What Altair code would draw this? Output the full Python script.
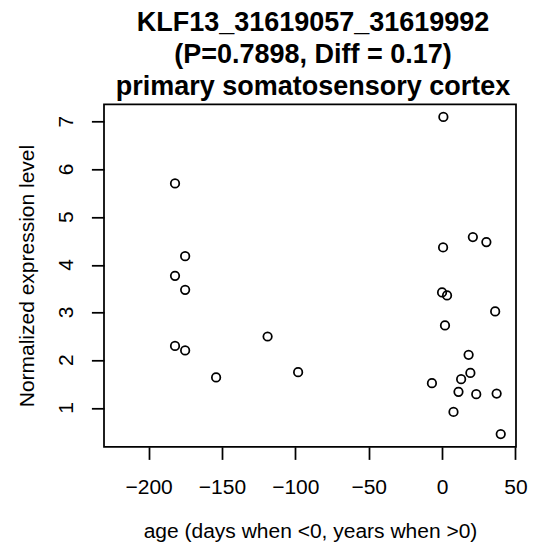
import altair as alt
import pandas as pd

# Data
age = [-182.0, -175.1, -182.0, -175.1, -182.0, -175.1, -154.0, -118.9, -98.1,
       0.9, 0.7, 21.0, 30.2, 0.0, 3.4, 36.2, 2.0, 18.1, 19.3, 13.0, -6.9,
       11.2, 23.3, 37.2, 7.8, 40.0]
expr = [5.707, 4.18, 3.77, 3.475, 2.30, 2.204, 1.638, 2.497, 1.749,
        7.10, 4.365, 4.581, 4.476, 3.42, 3.357, 3.022, 2.728, 2.112, 1.734,
        1.602, 1.518, 1.336, 1.287, 1.30, 0.916, 0.45]
x_ticks = [-200, -150, -100, -50, 0, 50]
y_ticks = [1, 2, 3, 4, 5, 6, 7]
title_lines = ["KLF13_31619057_31619992", "(P=0.7898, Diff = 0.17)",
               "primary somatosensory cortex"]
x_title = "age (days when <0, years when >0)"
y_title = "Normalized expression level"

df = pd.DataFrame({"age": age, "expr": expr})
tdf = pd.DataFrame({"t": ["\n".join(title_lines)]})
ydf = pd.DataFrame({"expr": y_ticks, "lab": [str(v) for v in y_ticks]})

W, H = 412, 342.5
FONT = "Liberation Sans"
XDOM = [-230.4, 50.4]
YDOM = [0.184, 7.366]

points = alt.Chart(df).mark_point(
    shape="circle", filled=False, stroke="black", strokeWidth=1.75,
    size=72, opacity=1
).encode(
    x=alt.X("age:Q",
            scale=alt.Scale(domain=XDOM, nice=False, zero=False),
            axis=alt.Axis(values=x_ticks, title=x_title, grid=False, domain=False,
                          ticks=True, tickSize=12.6, tickWidth=1.75, tickColor="black",
                          labelFont=FONT, labelFontSize=21, labelColor="black",
                          labelBaseline="alphabetic", labelPadding=34,
                          labelFlush=False, labelOverlap=False,
                          titleFont=FONT, titleFontSize=21, titleFontWeight="normal",
                          titleColor="black", titleBaseline="alphabetic",
                          titleAlign="center", titleX=W / 2, titleY=91)),
    y=alt.Y("expr:Q",
            scale=alt.Scale(domain=YDOM, nice=False, zero=False),
            axis=alt.Axis(values=y_ticks, title=y_title, grid=False, domain=False,
                          ticks=True, tickSize=12.6, tickWidth=1.75, tickColor="black",
                          labels=False,
                          titleFont=FONT, titleFontSize=21, titleFontWeight="normal",
                          titleColor="black", titleAngle=270, titleAlign="center",
                          titleBaseline="alphabetic", titleX=-70.7, titleY=H / 2)),
)

ylabels = alt.Chart(ydf).mark_text(
    font=FONT, fontSize=21, color="black", angle=270,
    align="center", baseline="alphabetic"
).encode(
    x=alt.value(-30.7),
    y=alt.Y("expr:Q", scale=alt.Scale(domain=YDOM, nice=False, zero=False)),
    text="lab:N",
)

title = alt.Chart(tdf).mark_text(
    font=FONT, fontSize=27, fontWeight="bold", color="black",
    align="center", baseline="alphabetic", lineBreak="\n", lineHeight=32
).encode(
    x=alt.value(W / 2 + 3), y=alt.value(-73.6), text="t:N"
)

chart = alt.layer(points, ylabels, title).properties(
    width=W, height=H,
    autosize=alt.AutoSizeParams(type="none"),
    padding={"left": 96, "top": 96.3, "right": 12, "bottom": 100},
    background="white",
).configure_view(stroke="black", strokeWidth=1.75)

chart.save("out.html", embed_options={"renderer": "svg", "actions": False})
